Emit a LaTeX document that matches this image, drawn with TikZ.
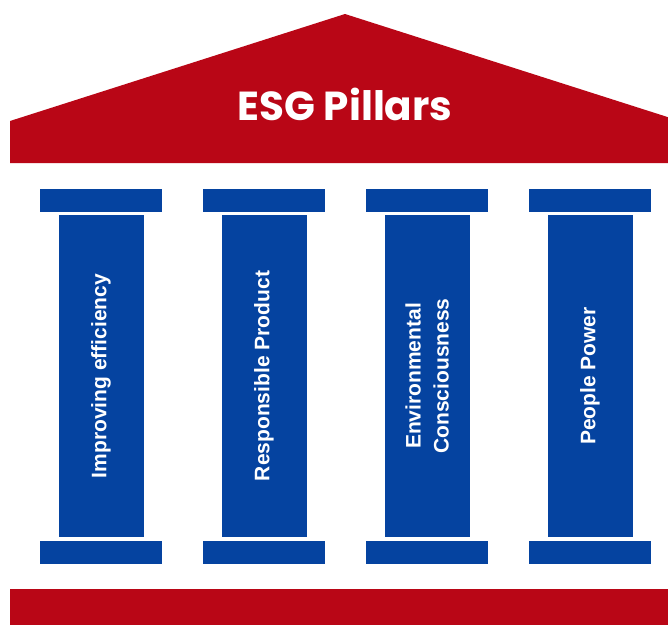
\documentclass[tikz,border=0pt]{standalone}
\usepackage{fontspec}
\newfontfamily\poppins{Poppins}
\newfontfamily\arialish{Liberation Sans}
\definecolor{roofred}{RGB}{185,6,22}
\definecolor{pillarblue}{RGB}{5,67,160}
\tikzset{
    capbox/.style={fill=pillarblue, minimum width=122pt, minimum height=23pt, inner sep=0pt},
    shaft/.style={fill=pillarblue, rotate=90, minimum width=322pt, minimum height=85pt,
        inner sep=0pt, text=white, align=center, font=\arialish\bfseries\fontsize{21}{28}\selectfont}
}
\newcommand{\pillar}[3]{
    \node[capbox] (#2top) at (#1,200.5) {};
    \node[shaft] (#2) at (#1,376) {#3};
    \node[capbox] (#2base) at (#1,552.5) {};
}

\begin{document}
\begin{tikzpicture}[x=1pt,y=-1pt]
        \clip (0,0) rectangle (668,624);
        \fill[white] (0,0) rectangle (668,624);
        % roof
        \fill[roofred] (10,163) -- (10,121) -- (345,14) -- (680,121) -- (680,163) -- cycle;
        \node[text=white, font=\poppins\bfseries\fontsize{40.5}{44}\selectfont] (title) at (345,104) {ESG Pillars};
        % pillars
        \pillar{101}{p1}{Improving efficiency}
        \pillar{264}{p2}{Responsible Product}
        \pillar{427}{p3}{Environmental\\Consciousness}
        \pillar{590}{p4}{People Power}
        % floor
        \fill[roofred] (10,589) rectangle (680,630);
    \end{tikzpicture}
\end{document}
